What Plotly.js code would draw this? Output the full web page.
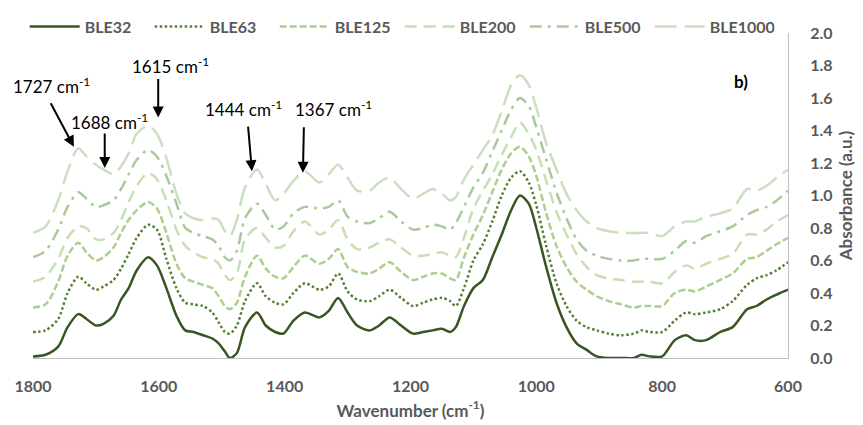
<!DOCTYPE html>
<html><head><meta charset="utf-8">
<script src="https://cdn.plot.ly/plotly-3.0.1.min.js"></script>
<style>html,body{margin:0;padding:0;background:#fff}#chart{width:863px;height:425px}</style>
</head><body><div id="chart"></div><script>
const wavenumber = [1800,1780,1760,1745,1728,1715,1700,1688,1672,1660,
  1648,1635,1617,1603,1588,1572,1558,1545,1530,1515,
  1505,1495,1487,1476,1463,1444,1430,1415,1402,1386,
  1368,1345,1330,1315,1300,1285,1265,1250,1233,1215,
  1196,1180,1165,1150,1137,1128,1115,1100,1085,1070,
  1055,1040,1026,1012,1000,985,968,952,936,920,
  904,885,865,845,833,820,800,780,762,748,
  730,708,688,665,650,634,618,600];

const ble32 = [0.01,0.02,0.07,0.19,0.27,0.24,0.20,0.21,0.26,0.36,
  0.43,0.54,0.62,0.57,0.43,0.26,0.17,0.16,0.14,0.12,
  0.09,0.04,0.00,0.03,0.19,0.28,0.20,0.16,0.15,0.23,
  0.28,0.25,0.29,0.37,0.28,0.20,0.17,0.20,0.25,0.20,
  0.15,0.16,0.17,0.18,0.16,0.19,0.32,0.43,0.48,0.62,
  0.76,0.91,1.00,0.95,0.80,0.57,0.34,0.19,0.09,0.05,
  0.01,0.00,0.00,0.00,0.02,0.01,0.01,0.11,0.14,0.11,
  0.11,0.16,0.19,0.30,0.32,0.36,0.39,0.42];

const ble63 = [0.16,0.17,0.24,0.40,0.50,0.46,0.42,0.44,0.48,0.55,
  0.64,0.74,0.82,0.79,0.61,0.43,0.34,0.33,0.32,0.28,
  0.22,0.16,0.15,0.20,0.35,0.46,0.38,0.34,0.33,0.40,
  0.46,0.42,0.44,0.52,0.41,0.36,0.35,0.38,0.42,0.37,
  0.32,0.34,0.36,0.37,0.35,0.32,0.43,0.60,0.70,0.84,
  1.00,1.11,1.15,1.08,0.94,0.70,0.46,0.32,0.23,0.19,
  0.17,0.15,0.14,0.15,0.17,0.16,0.16,0.23,0.28,0.27,
  0.28,0.30,0.35,0.45,0.49,0.51,0.54,0.59];

const ble125 = [0.31,0.33,0.47,0.63,0.71,0.65,0.60,0.62,0.68,0.77,
  0.85,0.91,0.96,0.92,0.77,0.58,0.49,0.47,0.45,0.43,
  0.38,0.32,0.30,0.34,0.50,0.63,0.55,0.50,0.49,0.56,
  0.63,0.58,0.61,0.67,0.56,0.53,0.52,0.55,0.59,0.53,
  0.48,0.50,0.52,0.52,0.49,0.48,0.62,0.76,0.88,1.02,
  1.16,1.26,1.30,1.24,1.12,0.90,0.69,0.56,0.47,0.42,
  0.38,0.35,0.33,0.31,0.32,0.32,0.32,0.40,0.42,0.41,
  0.44,0.48,0.52,0.61,0.62,0.66,0.70,0.74];

const ble200 = [0.47,0.50,0.61,0.74,0.81,0.80,0.73,0.73,0.77,0.85,
  0.96,1.06,1.14,1.10,0.97,0.79,0.69,0.65,0.62,0.61,
  0.58,0.51,0.48,0.52,0.73,0.80,0.74,0.68,0.69,0.78,
  0.84,0.76,0.79,0.85,0.73,0.67,0.68,0.71,0.73,0.68,
  0.63,0.63,0.64,0.65,0.63,0.62,0.74,0.92,1.03,1.13,
  1.25,1.36,1.45,1.38,1.28,1.10,0.90,0.76,0.64,0.56,
  0.51,0.49,0.48,0.47,0.47,0.47,0.46,0.53,0.57,0.55,
  0.58,0.61,0.64,0.76,0.76,0.79,0.84,0.88];

const ble500 = [0.62,0.66,0.79,0.93,1.02,0.98,0.93,0.94,0.97,1.04,
  1.13,1.22,1.28,1.24,1.12,0.95,0.80,0.77,0.75,0.73,
  0.69,0.62,0.60,0.66,0.86,0.95,0.88,0.79,0.81,0.89,
  0.93,0.92,0.93,0.97,0.87,0.84,0.83,0.86,0.90,0.84,
  0.79,0.80,0.82,0.81,0.79,0.83,0.93,1.05,1.14,1.27,
  1.40,1.53,1.60,1.55,1.42,1.23,1.02,0.86,0.73,0.66,
  0.63,0.61,0.60,0.60,0.61,0.61,0.61,0.66,0.72,0.71,
  0.75,0.78,0.81,0.88,0.91,0.93,0.97,1.03];

const ble1000 = [0.77,0.81,0.97,1.15,1.29,1.24,1.19,1.16,1.13,1.18,
  1.26,1.38,1.43,1.38,1.23,1.01,0.89,0.86,0.85,0.86,
  0.85,0.78,0.75,0.85,1.05,1.16,1.07,0.97,1.01,1.09,
  1.15,1.08,1.13,1.19,1.11,1.03,1.03,1.08,1.11,1.04,
  0.98,1.01,1.04,1.01,0.97,0.99,1.10,1.19,1.28,1.37,
  1.52,1.68,1.74,1.68,1.54,1.33,1.16,1.01,0.91,0.84,
  0.80,0.78,0.77,0.77,0.77,0.77,0.75,0.81,0.84,0.84,
  0.87,0.89,0.92,1.04,1.03,1.06,1.11,1.16];

const seriesNames = ['BLE32','BLE63','BLE125','BLE200','BLE500','BLE1000'];
const seriesValues = [ble32, ble63, ble125, ble200, ble500, ble1000];
const seriesColors = ['#375623','#548235','#A9D08E','#C6E0B4','#A9C99B','#C9E0C0'];
const seriesDash = ['solid','2.5px,2.5px','7px,3px','12px,7px','12px,6px,3px,6px','22px,8px'];

// peak labels and the arrow tips that point at the BLE1000 bands
const peakLabels = ['1727 cm<sup>-1</sup>','1688 cm<sup>-1</sup>','1615 cm<sup>-1</sup>','1444 cm<sup>-1</sup>','1367 cm<sup>-1</sup>'];
const labelX = [1770, 1678, 1581, 1466, 1323];
const labelY = [1.675, 1.455, 1.80, 1.535, 1.535];
const tipX = [1735, 1686, 1601, 1452, 1371];
const tipY = [1.30, 1.17, 1.48, 1.15, 1.14];
const tailDX = [-24, 0, 0, -4, 1];
const tailDY = [-45, -36, -40, -46, -47];

const gray = '#595959';
const fam = 'Lato, "Open Sans", sans-serif';

const traces = seriesNames.map((n, i) => ({
  x: wavenumber, y: seriesValues[i], name: n, type: 'scatter', mode: 'lines',
  line: {color: seriesColors[i], width: 2.5, dash: seriesDash[i], shape: 'spline', smoothing: 0.8}
}));

const annotations = [];
peakLabels.forEach((t, i) => {
  annotations.push({x: labelX[i], y: labelY[i], xref: 'x', yref: 'y', text: t, showarrow: false,
    font: {family: fam, size: 17, color: '#000'}});
  annotations.push({x: tipX[i], y: tipY[i], xref: 'x', yref: 'y', text: '', showarrow: true,
    ax: tailDX[i], ay: tailDY[i], arrowhead: 2, arrowsize: 1.1, arrowwidth: 2, arrowcolor: '#000'});
});
annotations.push({x: 675, y: 1.70, xref: 'x', yref: 'y', text: 'b)', showarrow: false,
  font: {family: fam, size: 17, color: '#000', weight: 'bold'}});

const layout = {
  width: 863, height: 425,
  margin: {l: 33, r: 75, t: 33, b: 67, autoexpand: false},
  paper_bgcolor: '#fff', plot_bgcolor: '#fff',
  showlegend: true,
  legend: {orientation: 'h', x: -0.011, xanchor: 'left', y: 1.072, yanchor: 'top',
    font: {family: fam, size: 16, color: gray, weight: 'bold'},
    itemwidth: 50, entrywidth: 60, entrywidthmode: 'pixels', bgcolor: 'rgba(0,0,0,0)'},
  xaxis: {range: [1800, 600], tick0: 0, dtick: 200, showgrid: false, zeroline: false,
    showline: true, linecolor: '#BFBFBF', linewidth: 1, ticks: '', ticklabelstandoff: 14,
    tickfont: {family: fam, size: 16, color: gray, weight: 'bold'},
    title: {text: 'Wavenumber (cm<sup>-1</sup>)', standoff: 10, font: {family: fam, size: 17, color: gray, weight: 'bold'}}},
  yaxis: {range: [0, 2], tick0: 0, dtick: 0.2, tickformat: '.1f', side: 'right', showgrid: false, zeroline: false,
    showline: true, linecolor: '#BFBFBF', linewidth: 1, ticks: '', ticklabelstandoff: 18,
    tickfont: {family: fam, size: 16, color: gray, weight: 'bold'},
    title: {text: 'Absorbance (a.u.)', standoff: 8, font: {family: fam, size: 17, color: gray, weight: 'bold'}}},
  annotations: annotations
};

Plotly.newPlot('chart', traces, layout, {displayModeBar: false, responsive: false});
</script></body></html>
